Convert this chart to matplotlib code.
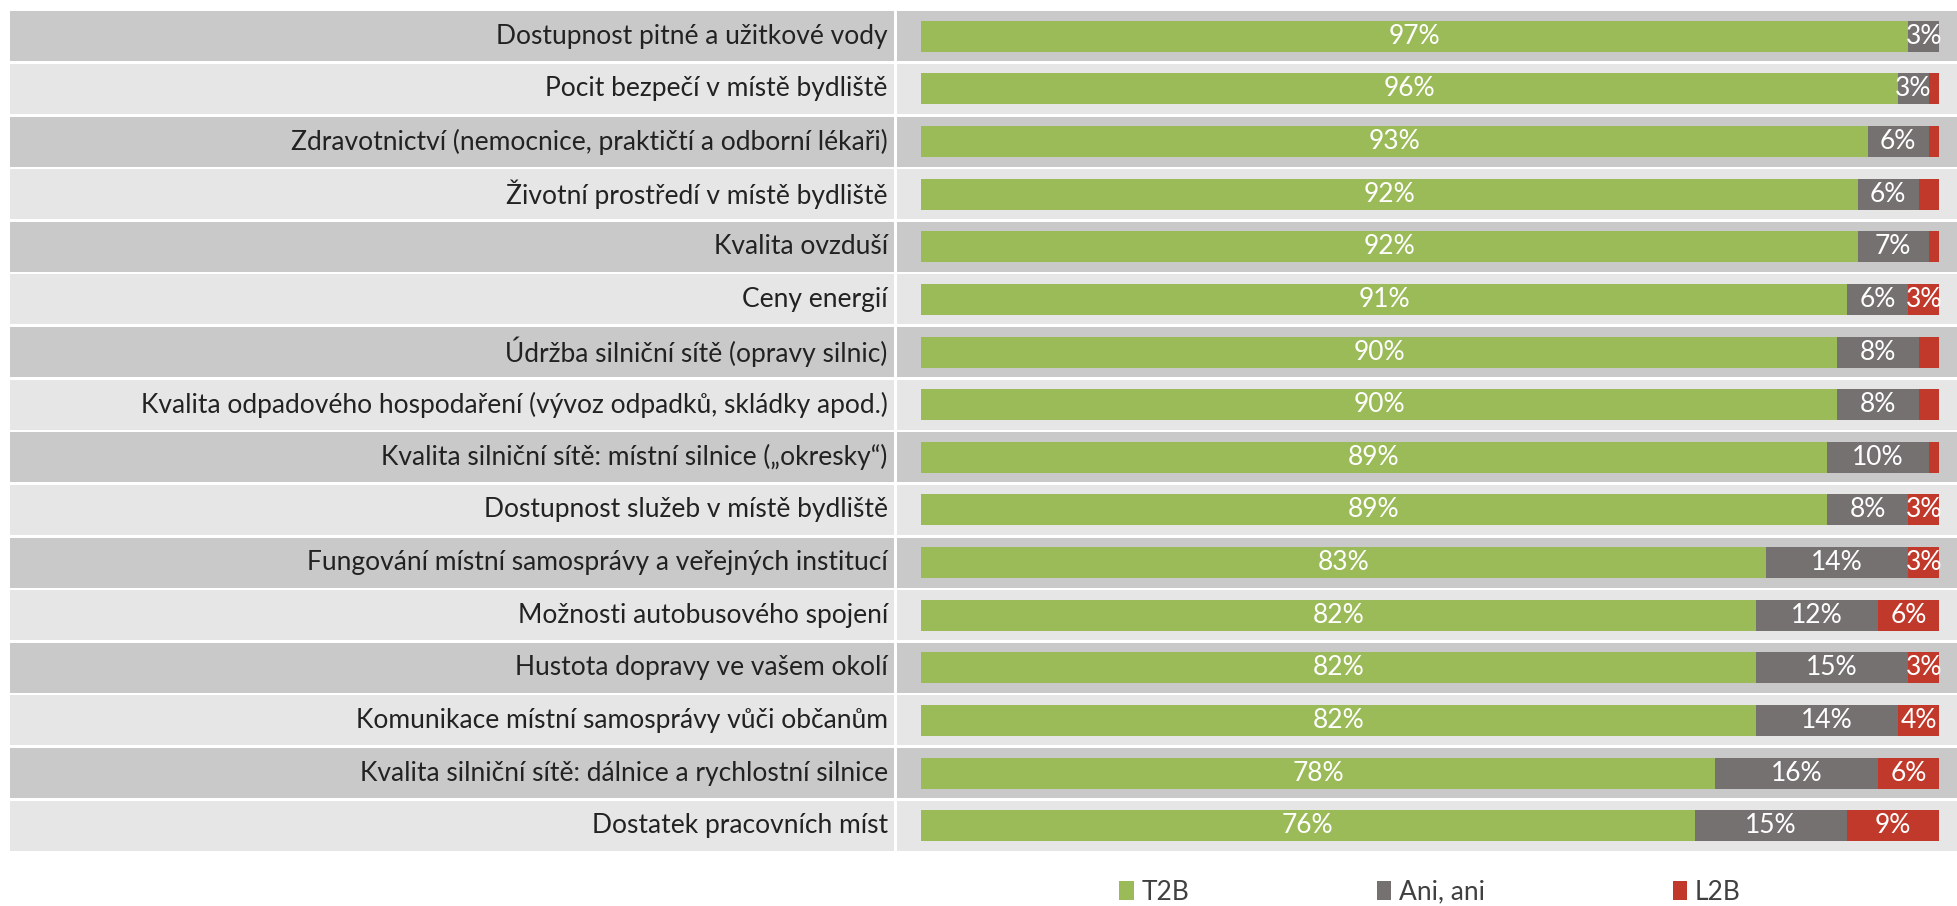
import matplotlib
matplotlib.use("Agg")
import matplotlib.pyplot as plt
from matplotlib.patches import Patch

plt.rcParams['font.family'] = ['Lato', 'DejaVu Sans']

categories = [
    "Dostupnost pitné a užitkové vody",
    "Pocit bezpečí v místě bydliště",
    "Zdravotnictví (nemocnice, praktičtí a odborní lékaři)",
    "Životní prostředí v místě bydliště",
    "Kvalita ovzduší",
    "Ceny energií",
    "Údržba silniční sítě (opravy silnic)",
    "Kvalita odpadového hospodaření (vývoz odpadků, skládky apod.)",
    "Kvalita silniční sítě: místní silnice („okresky“)",
    "Dostupnost služeb v místě bydliště",
    "Fungování místní samosprávy a veřejných institucí",
    "Možnosti autobusového spojení",
    "Hustota dopravy ve vašem okolí",
    "Komunikace místní samosprávy vůči občanům",
    "Kvalita silniční sítě: dálnice a rychlostní silnice",
    "Dostatek pracovních míst",
]
t2b = [97, 96, 93, 92, 92, 91, 90, 90, 89, 89, 83, 82, 82, 82, 78, 76]
ani = [3, 3, 6, 6, 7, 6, 8, 8, 10, 8, 14, 12, 15, 14, 16, 15]
l2b = [0, 1, 1, 2, 1, 3, 2, 2, 1, 3, 3, 6, 3, 4, 6, 9]
series_names = ["T2B", "Ani, ani", "L2B"]
colors = ["#9BBB59", "#767171", "#C0392B"]

W, H = 1957, 906
fig = plt.figure(figsize=(W / 100, H / 100), dpi=100)

top_px, bot_px = 10, 852
ax_b = (H - bot_px) / H
ax_h = (bot_px - top_px) / H

axL = fig.add_axes([10 / W, ax_b, (894 - 10) / W, ax_h])
axR = fig.add_axes([897 / W, ax_b, (W - 897) / W, ax_h])

n = len(categories)
ypos = list(range(n))
band_colors = ["#C9C9C9", "#E6E6E6"]

for ax in (axL, axR):
    ax.set_ylim(n - 0.5, -0.5)
    for i in ypos:
        ax.axhspan(i - 0.476, i + 0.476, color=band_colors[i % 2], lw=0, zorder=0)
    ax.set_axis_off()

axL.set_xlim(0, 1)
for i, c in enumerate(categories):
    axL.text(0.993, i, c, ha="right", va="center", fontsize=19,
             color="#222222")

x0_px, x100_px = 921, 1939
px_per = (x100_px - x0_px) / 100.0
axR.set_xlim(-(x0_px - 897) / px_per, 100 + (W - x100_px) / px_per)

left = [0] * n
for vals, col in zip([t2b, ani, l2b], colors):
    axR.barh(ypos, vals, left=left, height=0.59, color=col, lw=0, zorder=2)
    for i, (v, l) in enumerate(zip(vals, left)):
        if v >= 3:
            axR.text(l + v / 2, i, f"{v}%", ha="center", va="center",
                     color="white", fontsize=19, zorder=3)
    left = [a + b for a, b in zip(left, vals)]

handles = [Patch(facecolor=c, edgecolor="none") for c in colors]
fig.legend(handles, series_names, loc="center", bbox_to_anchor=(1430 / W, 14 / H),
           ncol=3, frameon=False, fontsize=19, handlelength=0.55, handleheight=0.75,
           handletextpad=0.3, columnspacing=7.1, labelcolor="#404040")

fig.savefig("out.png", dpi=100)
